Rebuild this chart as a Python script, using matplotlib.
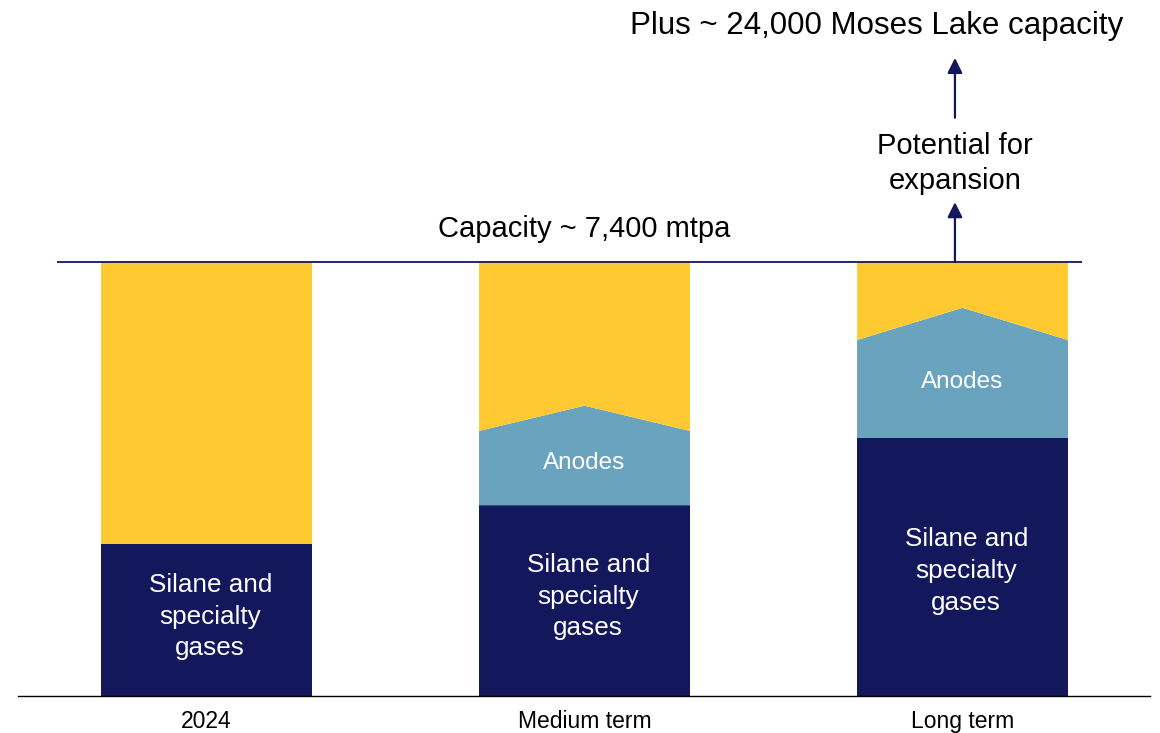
import matplotlib
matplotlib.use("Agg")
import matplotlib.pyplot as plt

plt.rcParams['font.family'] = ['Liberation Sans', 'DejaVu Sans']

# Volumes in mtpa
categories = ["2024", "Medium term", "Long term"]
capacity = 7400
silane = [2600, 3250, 4400]          # silane and specialty gases
anodes_edge = [2600, 4520, 6070]     # top of anodes band at the bar edges
anodes_peak = [2600, 4950, 6620]     # top of anodes band at the bar centre
silane_label_y = [1350, 1690, 2130]
anodes_label_y = [None, 3970, 5350]
expansion_top = 8420
moses_lake_base = 9860
moses_lake_top = 10880

NAVY = "#13175c"
YELLOW = "#ffca31"
TEAL = "#6aa3bd"

W, H = 1160, 733
fig = plt.figure(figsize=(W / 100, H / 100), dpi=100)
ax = fig.add_axes([18 / W, 37 / H, 1132 / W, 696 / H])

x = list(range(len(categories)))
width = 0.558

for i, xc in enumerate(x):
    x0, x1 = xc - width / 2, xc + width / 2
    # silane block
    ax.bar(xc, silane[i], width=width, color=NAVY, linewidth=0, zorder=2)
    # anodes chevron
    if anodes_peak[i] > silane[i]:
        ax.fill([x0, x1, x1, xc, x0],
                [silane[i], silane[i], anodes_edge[i], anodes_peak[i], anodes_edge[i]],
                color=TEAL, linewidth=0, zorder=2)
    # remaining headroom up to capacity
    ax.fill([x0, xc, x1, x1, x0],
            [anodes_edge[i], anodes_peak[i], anodes_edge[i], capacity, capacity],
            color=YELLOW, linewidth=0, zorder=2)
    ax.text(xc + 0.01, silane_label_y[i], "Silane and\nspecialty\ngases", color="white",
            ha="center", va="center", fontsize=18.8, linespacing=1.4, zorder=3)
    if anodes_label_y[i] is not None:
        ax.text(xc, anodes_label_y[i], "Anodes", color="white",
                ha="center", va="center", fontsize=17.5, zorder=3)

# capacity line
ax.hlines(capacity, -0.3955, 2.316, color=NAVY, linewidth=1.3, zorder=4)
ax.text(1.0, 7960, "Capacity ~ 7,400 mtpa", ha="center", va="center",
        fontsize=21, color="black")

arrow_x = 1.98
arrow_kw = dict(arrowstyle="-|>,head_length=0.9,head_width=0.45", color=NAVY,
                linewidth=1.6, shrinkA=0, shrinkB=0)
ax.annotate("", xy=(arrow_x, expansion_top), xytext=(arrow_x, capacity),
            arrowprops=arrow_kw, zorder=4)
ax.text(arrow_x, 9080, "Potential for\nexpansion", ha="center", va="center",
        fontsize=21, linespacing=1.32, color="black")
ax.annotate("", xy=(arrow_x, moses_lake_top), xytext=(arrow_x, moses_lake_base),
            arrowprops=arrow_kw, zorder=4)
ax.text(1.774, 11420, "Plus ~ 24,000 Moses Lake capacity", ha="center",
        va="center", fontsize=22.5, color="black")

ax.set_xlim(-0.4987, 2.496)
ax.set_ylim(0, 11868)
ax.set_xticks(x)
ax.set_xticklabels(categories, fontsize=16.5)
ax.tick_params(axis="x", length=0, pad=10)
ax.set_yticks([])
for side in ("top", "left", "right"):
    ax.spines[side].set_visible(False)
ax.spines["bottom"].set_linewidth(1.0)
ax.spines["bottom"].set_color("black")
ax.patch.set_alpha(0)

fig.savefig("out.png", dpi=100)
